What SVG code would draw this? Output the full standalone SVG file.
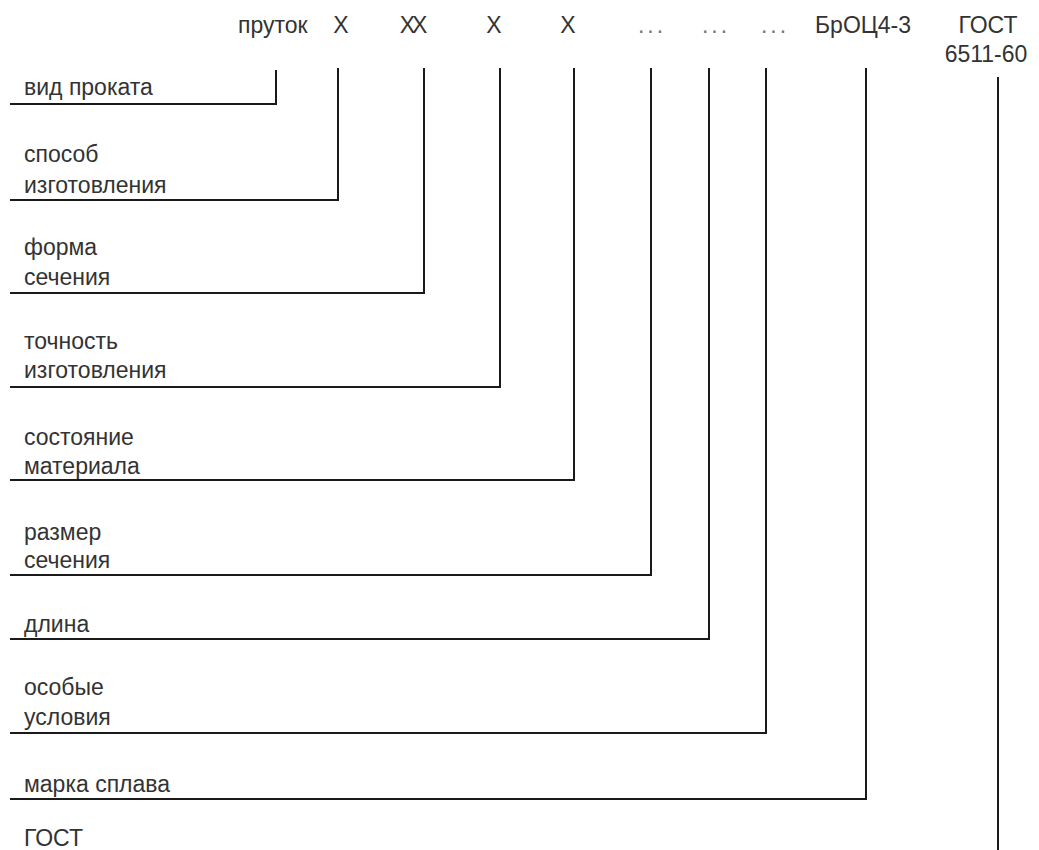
<svg xmlns="http://www.w3.org/2000/svg" width="1039" height="850" viewBox="0 0 1039 850">
<style>
.t{font-family:"Liberation Sans",Arial,sans-serif;font-size:23px;fill:#333}
.m{text-anchor:middle}
.d{letter-spacing:3px;fill:#777}
.c{fill:none;stroke:#1a1a1a;stroke-width:2}
</style>
<rect width="1039" height="850" fill="#fff"/>
<g id="header">
<text class="t" x="238" y="33">пруток</text>
<text class="t m" x="341" y="33">Х</text>
<text class="t m" x="412" y="33" letter-spacing="-3">ХХ</text>
<text class="t m" x="494" y="33">Х</text>
<text class="t m" x="568" y="33">Х</text>
<text class="t m d" x="652" y="33">...</text>
<text class="t m d" x="716" y="33">...</text>
<text class="t m d" x="775" y="33">...</text>
<text class="t" x="815" y="33">БрОЦ4-3</text>
<text class="t m" x="988" y="33">ГОСТ</text>
<text class="t m" x="986" y="62">6511-60</text>
</g>
<g id="n1"><text class="t" x="24" y="95">вид проката</text></g>
<g id="n2"><text class="t" x="24" y="162">способ</text><text class="t" x="24" y="193">изготовления</text></g>
<g id="n3"><text class="t" x="24" y="255">форма</text><text class="t" x="24" y="285">сечения</text></g>
<g id="n4"><text class="t" x="24" y="349">точность</text><text class="t" x="24" y="378">изготовления</text></g>
<g id="n5"><text class="t" x="24" y="445">состояние</text><text class="t" x="24" y="474">материала</text></g>
<g id="n6"><text class="t" x="24" y="540">размер</text><text class="t" x="24" y="568">сечения</text></g>
<g id="n7"><text class="t" x="24" y="632">длина</text></g>
<g id="n8"><text class="t" x="24" y="695">особые</text><text class="t" x="24" y="725">условия</text></g>
<g id="n9"><text class="t" x="24" y="792">марка сплава</text></g>
<g id="n10"><text class="t" x="24" y="846">ГОСТ</text></g>
<g id="connectors">
<polyline class="c" points="276,70 276,104 10,104"/>
<polyline class="c" points="338,68 338,200 10,200"/>
<polyline class="c" points="424,68 424,293 10,293"/>
<polyline class="c" points="500,68 500,387 10,387"/>
<polyline class="c" points="574,68 574,480 10,480"/>
<polyline class="c" points="651,68 651,575 10,575"/>
<polyline class="c" points="709,68 709,639 10,639"/>
<polyline class="c" points="766,68 766,733 10,733"/>
<polyline class="c" points="866,68 866,799 10,799"/>
<polyline class="c" points="998,77 998,850"/>
</g>
</svg>
